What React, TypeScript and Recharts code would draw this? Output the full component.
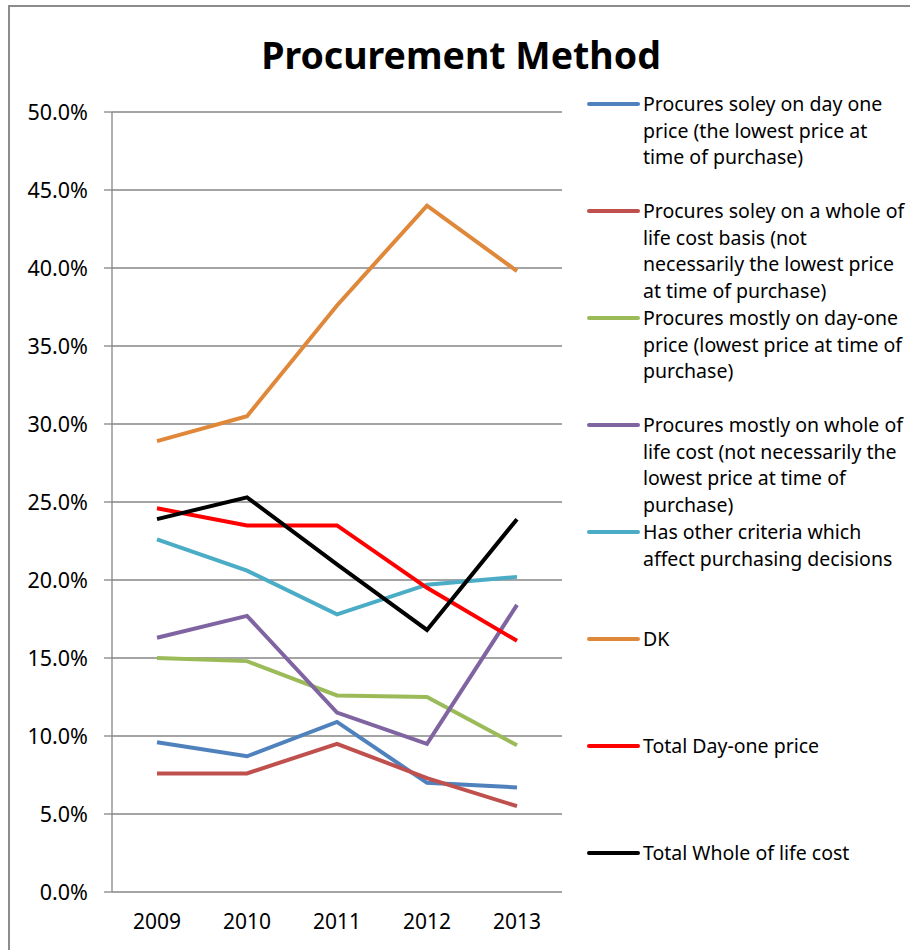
import { LineChart, Line, XAxis, YAxis, CartesianGrid } from "recharts";

const years = ["2009", "2010", "2011", "2012", "2013"];

const soleyDayOne = [9.6, 8.7, 10.9, 7.0, 6.7];
const soleyWholeLife = [7.6, 7.6, 9.5, 7.3, 5.5];
const mostlyDayOne = [15.0, 14.8, 12.6, 12.5, 9.4];
const mostlyWholeLife = [16.3, 17.7, 11.5, 9.5, 18.4];
const otherCriteria = [22.6, 20.6, 17.8, 19.7, 20.2];
const dontKnow = [28.9, 30.5, 37.6, 44.0, 39.8];
const totalDayOne = [24.6, 23.5, 23.5, 19.5, 16.1];
const totalWholeLife = [23.9, 25.3, 21.0, 16.8, 23.9];

const yTicks = [0, 5, 10, 15, 20, 25, 30, 35, 40, 45, 50];

// legend text keeps the original line breaks
const series = [
  { key: "soleyDayOne", values: soleyDayOne, color: "#4F81BD", name: "Procures soley on day one\nprice (the lowest price at\ntime of purchase)" },
  { key: "soleyWholeLife", values: soleyWholeLife, color: "#C0504D", name: "Procures soley on a whole of\nlife cost basis (not\nnecessarily the lowest price\nat time of purchase)" },
  { key: "mostlyDayOne", values: mostlyDayOne, color: "#9BBB59", name: "Procures mostly on day-one\nprice (lowest price at time of\npurchase)" },
  { key: "mostlyWholeLife", values: mostlyWholeLife, color: "#8064A2", name: "Procures mostly on whole of\nlife cost (not necessarily the\nlowest price at time of\npurchase)" },
  { key: "otherCriteria", values: otherCriteria, color: "#4BACC6", name: "Has other criteria which\naffect purchasing decisions" },
  { key: "dontKnow", values: dontKnow, color: "#E0883A", name: "DK" },
  { key: "totalDayOne", values: totalDayOne, color: "#FF0000", name: "Total Day-one price" },
  { key: "totalWholeLife", values: totalWholeLife, color: "#000000", name: "Total Whole of life cost" },
];

const data = years.map((year, i) => {
  const row: Record<string, number | string> = { pos: i + 1, year };
  series.forEach((s) => {
    row[s.key] = s.values[i];
  });
  return row;
});

const font = "'Noto Sans', 'Open Sans', sans-serif";
const gray = "#868686";

export default function App() {
  return (
    <div
      style={{
        position: "absolute",
        left: 0,
        top: 0,
        width: 910,
        height: 950,
        overflow: "hidden",
        background: "#fff",
        fontFamily: font,
      }}
    >
      <div
        style={{
          position: "absolute",
          left: 8,
          top: 5,
          width: 1000,
          height: 1000,
          border: "2px solid #8c8c8c",
        }}
      />
      <div
        style={{
          position: "absolute",
          left: 0,
          width: 922,
          top: 29,
          textAlign: "center",
          fontSize: 37.5,
          fontWeight: 700,
          lineHeight: "52px",
          color: "#000",
        }}
      >
        Procurement Method
      </div>
      <div style={{ position: "absolute", left: 0, top: 0 }}>
        <LineChart
          width={910}
          height={950}
          data={data}
          margin={{ top: 112, right: 348, bottom: 28, left: 32 }}
        >
          <CartesianGrid horizontal vertical={false} stroke={gray} strokeWidth={1.3} />
          <XAxis
            xAxisId="b"
            dataKey="pos"
            type="number"
            domain={[0.5, 5.5]}
            ticks={[0.5, 1.5, 2.5, 3.5, 4.5, 5.5]}
            tickFormatter={() => ""}
            height={0}
            stroke={gray}
            strokeWidth={1.3}
            tickSize={7}
          />
          <XAxis
            xAxisId="lbl"
            dataKey="pos"
            type="number"
            domain={[0.5, 5.5]}
            ticks={[1, 2, 3, 4, 5]}
            tickFormatter={(v: number) => years[v - 1]}
            height={30}
            axisLine={false}
            tickLine={false}
            tickSize={0}
            tickMargin={22}
            tick={{ fontSize: 21, fill: "#000", fontFamily: font }}
          />
          <YAxis
            width={80}
            domain={[0, 50]}
            ticks={yTicks}
            tickFormatter={(v: number) => `${v.toFixed(1)}%`}
            stroke={gray}
            strokeWidth={1.3}
            tickSize={8}
            tickMargin={16}
            tick={{ fontSize: 21.5, fill: "#000", fontFamily: font }}
            interval={0}
          />
          {series.map((s) => (
            <Line
              key={s.key}
              xAxisId="lbl"
              dataKey={s.key}
              name={s.name}
              stroke={s.color}
              strokeWidth={4}
              dot={false}
              isAnimationActive={false}
            />
          ))}
        </LineChart>
      </div>
      <div style={{ position: "absolute", left: 587, top: 91 }}>
        {series.map((s) => (
          <div key={s.key} style={{ position: "relative", height: 107 }}>
            <div
              style={{
                position: "absolute",
                left: 0,
                top: 11,
                width: 53,
                height: 4,
                borderRadius: 2,
                background: s.color,
              }}
            />
            <div
              style={{
                position: "absolute",
                left: 56,
                top: 0,
                whiteSpace: "pre",
                fontSize: 19.5,
                lineHeight: "26.6px",
                color: "#000",
              }}
            >
              {s.name}
            </div>
          </div>
        ))}
      </div>
    </div>
  );
}
